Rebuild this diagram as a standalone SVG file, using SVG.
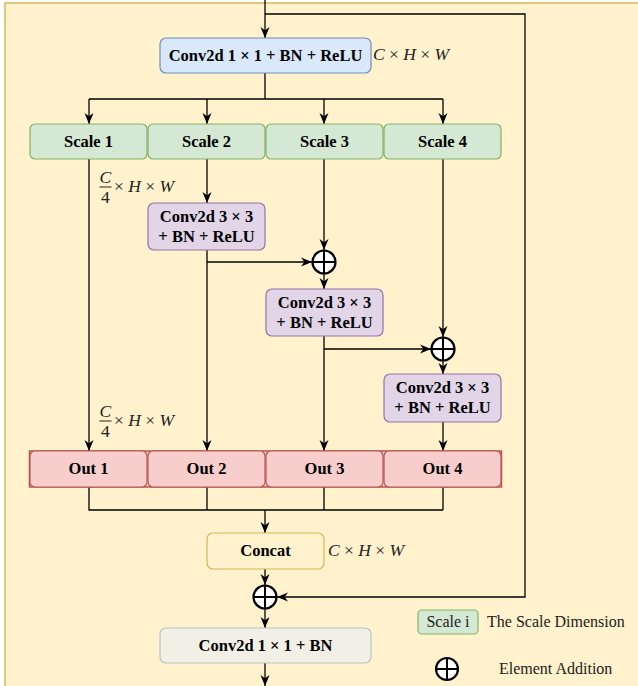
<svg xmlns="http://www.w3.org/2000/svg" width="638" height="686" viewBox="0 0 638 686">
<style>
.bg{fill:#fff2cc;stroke:#d6b656;stroke-width:1.5}
.box{stroke-width:1.2}
.blue{fill:#dae8fc;stroke:#6c8ebf}
.green{fill:#d5e8d4;stroke:#82b366}
.purple{fill:#e1d5e7;stroke:#9673a6}
.red{fill:#f8cecc;stroke:#b85450}
.yellow{fill:#fff2cc;stroke:#d6b656}
.grey{fill:#f2f0e4;stroke:#b8c4c8}
.t{font-family:"Liberation Serif","Times New Roman",serif;font-size:16.5px;fill:#000;text-anchor:middle}
.b{font-weight:bold}
.m{font-family:"Liberation Serif","Times New Roman",serif;font-size:17.5px;fill:#222}
.i{font-style:italic}
.l{font-family:"Liberation Serif","Times New Roman",serif;font-size:16px;fill:#222}
.c{fill:none;stroke:#000;stroke-width:1.3}
.a{marker-end:url(#ah)}
.plus circle{fill:#fff;stroke:#000;stroke-width:2.2}
.plus path{stroke:#000;stroke-width:2}
</style>
<defs>
<marker id="ah" markerUnits="userSpaceOnUse" markerWidth="11" markerHeight="11" viewBox="0 0 11 11" refX="11" refY="5.5" orient="auto">
<path d="M0,1 L11,5.5 L0,10 L3.3,5.5 z" fill="#000"/>
</marker>
</defs>
<rect class="bg" x="5" y="3" width="640" height="700"/>

<g id="connectors">
<path class="c a" d="M265,0 V38"/>
<path class="c a" d="M265,14 H525 V597 H277"/>
<path class="c" d="M265,73 V99 M89,99 H443"/>
<path class="c a" d="M89,99 V124"/>
<path class="c a" d="M207,99 V124"/>
<path class="c a" d="M324,99 V124"/>
<path class="c a" d="M443,99 V124"/>
<path class="c a" d="M89,159 V451"/>
<path class="c a" d="M207,159 V203"/>
<path class="c a" d="M207,250 V451"/>
<path class="c a" d="M207,262 H312"/>
<path class="c a" d="M324,159 V250"/>
<path class="c a" d="M324,274 V289"/>
<path class="c a" d="M324,336 V451"/>
<path class="c a" d="M324,349 H431"/>
<path class="c a" d="M443,159 V337"/>
<path class="c a" d="M443,361 V374"/>
<path class="c a" d="M443,422 V451"/>
<path class="c" d="M89,487 V510 H443 M207,487 V510 M324,487 V510 M443,487 V510"/>
<path class="c a" d="M265,510 V533"/>
<path class="c a" d="M265,569 V585"/>
<path class="c a" d="M265,609 V628"/>
<path class="c a" d="M265,663 V686"/>
</g>

<g id="conv1x1">
<rect class="box blue" x="160" y="38" width="211" height="35" rx="6"/>
<text class="t b" x="265.5" y="61">Conv2d 1 × 1 + BN + ReLU</text>
</g>
<g id="dim-top"><text class="m" x="373" y="60"><tspan class="i">C</tspan> × <tspan class="i">H</tspan> × <tspan class="i">W</tspan></text></g>

<g id="scale1"><rect class="box green" x="30" y="124" width="117" height="35" rx="5"/><text class="t b" x="88.5" y="147">Scale 1</text></g>
<g id="scale2"><rect class="box green" x="148" y="124" width="117" height="35" rx="5"/><text class="t b" x="206.5" y="147">Scale 2</text></g>
<g id="scale3"><rect class="box green" x="266" y="124" width="117" height="35" rx="5"/><text class="t b" x="324.5" y="147">Scale 3</text></g>
<g id="scale4"><rect class="box green" x="384" y="124" width="117" height="35" rx="5"/><text class="t b" x="442.5" y="147">Scale 4</text></g>

<g id="dim-frac1">
<text class="m i" x="99.5" y="183">C</text>
<path d="M99.5,187 H111.5" stroke="#222" stroke-width="1"/>
<text class="m" x="101" y="203">4</text>
<text class="m" x="114" y="192">× <tspan class="i">H</tspan> × <tspan class="i">W</tspan></text>
</g>

<g id="conv3x3-1"><rect class="box purple" x="148" y="203" width="117" height="47" rx="6"/><text class="t b" x="206.5" y="222">Conv2d 3 × 3</text><text class="t b" x="206.5" y="242">+ BN + ReLU</text></g>
<g id="add1" class="plus"><circle cx="324" cy="262" r="11.5"/><path d="M312.5,262 H335.5 M324,250.5 V273.5"/></g>
<g id="conv3x3-2"><rect class="box purple" x="266" y="289" width="117" height="47" rx="6"/><text class="t b" x="324.5" y="308">Conv2d 3 × 3</text><text class="t b" x="324.5" y="328">+ BN + ReLU</text></g>
<g id="add2" class="plus"><circle cx="443" cy="349" r="11.5"/><path d="M431.5,349 H454.5 M443,337.5 V360.5"/></g>
<g id="conv3x3-3"><rect class="box purple" x="384" y="374" width="117" height="48" rx="6"/><text class="t b" x="442.5" y="393">Conv2d 3 × 3</text><text class="t b" x="442.5" y="413">+ BN + ReLU</text></g>

<g id="dim-frac2">
<text class="m i" x="99.5" y="417">C</text>
<path d="M99.5,421 H111.5" stroke="#222" stroke-width="1"/>
<text class="m" x="101" y="437">4</text>
<text class="m" x="114" y="426">× <tspan class="i">H</tspan> × <tspan class="i">W</tspan></text>
</g>

<g id="outs">
<rect x="29.5" y="451" width="472" height="36" fill="#f8cecc" stroke="#b85450" stroke-width="1.5"/>
<g id="out1"><rect class="box red" x="30" y="451" width="117" height="36" rx="5"/><text class="t b" x="88.5" y="474">Out 1</text></g>
<g id="out2"><rect class="box red" x="148" y="451" width="117" height="36" rx="5"/><text class="t b" x="206.5" y="474">Out 2</text></g>
<g id="out3"><rect class="box red" x="266" y="451" width="117" height="36" rx="5"/><text class="t b" x="324.5" y="474">Out 3</text></g>
<g id="out4"><rect class="box red" x="384" y="451" width="117" height="36" rx="5"/><text class="t b" x="442.5" y="474">Out 4</text></g>
</g>

<g id="concat"><rect class="box yellow" x="207" y="533" width="117" height="36" rx="6"/><text class="t b" x="265.5" y="556">Concat</text></g>
<g id="dim-concat"><text class="m" x="328" y="556"><tspan class="i">C</tspan> × <tspan class="i">H</tspan> × <tspan class="i">W</tspan></text></g>

<g id="add3" class="plus"><circle cx="265" cy="597" r="11.5"/><path d="M253.5,597 H276.5 M265,585.5 V608.5"/></g>

<g id="conv1x1-bn"><rect class="box grey" x="160" y="628" width="211" height="35" rx="6"/><text class="t b" x="265.5" y="651">Conv2d 1 × 1 + BN</text></g>

<g id="legend-scale"><rect class="box green" x="418" y="610" width="60" height="24" rx="4"/><text class="l" x="448" y="627" text-anchor="middle">Scale i</text><text class="l" x="487" y="627">The Scale Dimension</text></g>
<g id="legend-add"><g class="plus"><circle cx="447" cy="669" r="11"/><path d="M436,669 H458 M447,658 V680"/></g><text class="l" x="499" y="674">Element Addition</text></g>
</svg>
